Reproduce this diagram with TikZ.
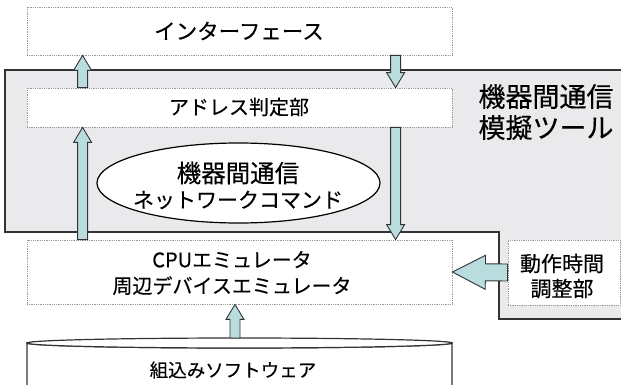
\documentclass[tikz,border=0pt]{standalone}
\usepackage{fontspec}
\setmainfont{Noto Sans CJK JP}[UprightFeatures={FakeBold=0.3}]
\usetikzlibrary{calc,shapes.geometric}
\definecolor{toolgray}{HTML}{EAEAEC}
\definecolor{arrowfill}{HTML}{B9DDDF}
\definecolor{edgegray}{HTML}{333333}
\tikzset{
  dotbox/.style={draw=gray!80, densely dotted, line width=0.8pt, fill=white, inner sep=0pt},
  barrow/.style={draw=edgegray, line width=0.9pt, fill=arrowfill, line join=miter},
  lbl/.style={inner sep=0pt, align=center, text=black},
}
\newcommand\blockarr[5]{%
  \coordinate (ba-h) at ($(#2)!#5!(#1)$);
  \draw[barrow] ($(#1)!#3!90:(#2)$) -- ($(ba-h)!#3!90:(#2)$) -- ($(ba-h)!#4!90:(#2)$) -- (#2)
     -- ($(ba-h)!#4!-90:(#2)$) -- ($(ba-h)!#3!-90:(#2)$) -- ($(#1)!#3!-90:(#2)$) -- cycle;}
\begin{document}
\begin{tikzpicture}[x=1pt,y=-1pt]
\useasboundingbox (0,0) rectangle (621,385);
\clip (0,0) rectangle (621,385);
% tool region
\draw[fill=toolgray, draw=edgegray, line width=1.8pt]
  (5,70) -- (630,70) -- (630,319) -- (499,319) -- (499,232) -- (5,232) -- cycle;
\node[lbl, font=\fontsize{27}{31}\selectfont, anchor=center] (title) at (546,112) {機器間通信\\模擬ツール};
% boxes
\node[dotbox, minimum width=425pt, minimum height=48pt] (ifc) at (239.5,31) {};
\node[lbl, font=\fontsize{21.5}{24}\selectfont] (ifct) at (239,31) {インターフェース};
\node[dotbox, minimum width=425pt, minimum height=39pt] (addr) at (239.5,107.5) {};
\node[lbl, font=\fontsize{20}{24}\selectfont] (addrt) at (239,107) {アドレス判定部};
\node[draw=black, line width=1.2pt, fill=white, ellipse, minimum width=283pt, minimum height=80pt, inner sep=0pt] (ell) at (238.5,183) {};
\node[lbl, font=\fontsize{24.5}{27}\selectfont] (ellt1) at (238,173) {機器間通信};
\node[lbl, font=\fontsize{21}{24}\selectfont] (ellt2) at (238,200) {ネットワークコマンド};
\node[dotbox, minimum width=425pt, minimum height=64pt] (cpu) at (239.5,272) {};
\node[lbl, font=\fontsize{20}{26}\selectfont] (cput) at (232,273) {CPUエミュレータ\\周辺デバイスエミュレータ};
\node[dotbox, minimum width=112pt, minimum height=65pt] (tim) at (564,272.5) {};
\node[lbl, font=\fontsize{21}{25}\selectfont] (timt) at (562,276) {動作時間\\調整部};
% cylinder
\draw[edgegray, line width=1.2pt, fill=white] (27,395) -- (27,343) arc[start angle=180, end angle=360, x radius=212.5pt, y radius=5pt] -- (452,395);
\draw[edgegray, line width=1.2pt, fill=white] (239.5,343) ellipse[x radius=212.5pt, y radius=5pt];
\coordinate (cyl) at (239.5,338);
\node[lbl, font=\fontsize{18.5}{22}\selectfont] (cylt) at (233,370) {組込みソフトウェア};
% arrows
\coordinate (a1s) at ($(addr.north west)+(56,0)$);
\coordinate (a1e) at ($(ifc.south west)+(56,0)$);
\blockarr{a1s}{a1e}{5pt}{9pt}{15pt}
\coordinate (a2s) at ($(cpu.north west)+(56,0)$);
\coordinate (a2e) at ($(addr.south west)+(56,0)$);
\blockarr{a2s}{a2e}{5pt}{9pt}{15pt}
\coordinate (a3s) at ($(ifc.south west)+(369,0)$);
\coordinate (a3e) at ($(addr.north west)+(369,0)$);
\blockarr{a3s}{a3e}{5pt}{9pt}{15pt}
\coordinate (a4s) at ($(addr.south west)+(369,0)$);
\coordinate (a4e) at ($(cpu.north west)+(369,0)$);
\blockarr{a4s}{a4e}{5pt}{9pt}{15pt}
\coordinate (a5s) at ($(cyl)+(-4.5,0)$);
\coordinate (a5e) at ($(cpu.south)+(-4.5,0)$);
\blockarr{a5s}{a5e}{5pt}{9pt}{15pt}
\coordinate (a6s) at (tim.west);
\coordinate (a6e) at (cpu.east);
\blockarr{a6s}{a6e}{8.5pt}{17pt}{33pt}
\end{tikzpicture}
\end{document}
